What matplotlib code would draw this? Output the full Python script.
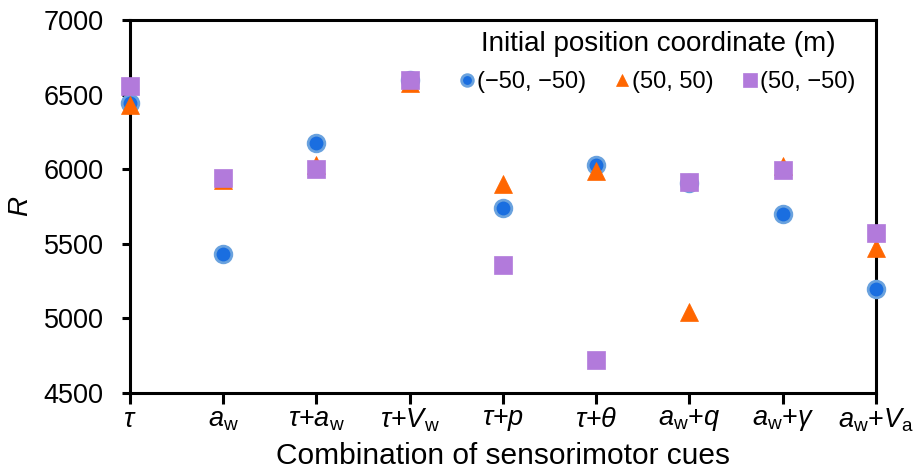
import matplotlib
matplotlib.use("Agg")
import matplotlib.pyplot as plt

plt.rcParams['font.family'] = ['Liberation Sans', 'DejaVu Sans']
plt.rcParams['mathtext.fontset'] = 'custom'
plt.rcParams['mathtext.it'] = 'Liberation Sans:italic'
plt.rcParams['mathtext.rm'] = 'Liberation Sans'
plt.rcParams['mathtext.bf'] = 'Liberation Sans:bold'

# data
cues = [r'$\tau$', r'$a_{\rm w}$', r'$\tau$+$a_{\rm w}$', r'$\tau$+$V_{\rm w}$',
        r'$\tau$+$p$', r'$\tau$+$\theta$', r'$a_{\rm w}$+$q$',
        r'$a_{\rm w}$+$\gamma$', r'$a_{\rm w}$+$V_{\rm a}$']
r_m50_m50 = [6440, 5430, 6175, 6600, 5740, 6030, 5910, 5700, 5195]
r_50_50 = [6430, 5930, 6030, 6580, 5900, 5990, 5045, 6020, 5470]
r_50_m50 = [6560, 5940, 6000, 6600, 5360, 4720, 5915, 5995, 5575]
labels = ['(\u221250, \u221250)', '(50, 50)', '(50, \u221250)']

x = list(range(len(cues)))

fig = plt.figure(figsize=(9.21, 4.73), dpi=100)
ax = fig.add_axes([0.141, 0.169, 0.81, 0.789])

ax.plot(x, r_m50_m50, ls='none', marker='o', ms=12, mfc='#1a6ee0',
        mec='#6aa2de', mew=2, label=labels[0], clip_on=False, zorder=3)
ax.plot(x, r_50_50, ls='none', marker='^', ms=13, mfc='#ff6600',
        mec='#ff6600', mew=0.5, label=labels[1], clip_on=False, zorder=4)
ax.plot(x, r_50_m50, ls='none', marker='s', ms=13.5, mfc='#b27adb',
        mec='#b27adb', mew=0.5, label=labels[2], clip_on=False, zorder=5)

ax.set_xlim(0, 8)
ax.set_ylim(4500, 7000)
ax.set_yticks([4500, 5000, 5500, 6000, 6500, 7000])
ax.set_xticks(x)
ax.set_xticklabels(cues)

for s in ax.spines.values():
    s.set_linewidth(2.2)
ax.tick_params(axis='y', direction='out', length=6, width=2.2, labelsize=19.5, pad=13)
ax.tick_params(axis='x', direction='out', length=8, width=2.2, labelsize=19.5, pad=2)

ax.set_ylabel('$R$', fontsize=20, labelpad=7)
ax.set_xlabel('Combination of sensorimotor cues', fontsize=21.5, labelpad=5.5)

leg = ax.legend(title='Initial position coordinate (m)', ncol=3, frameon=False,
                loc='upper right', bbox_to_anchor=(0.972, 0.97), fontsize=17,
                title_fontsize=20, handlelength=0.5, handletextpad=0.15,
                columnspacing=1.3, markerscale=0.7, borderpad=0,
                borderaxespad=0)
leg._legend_box.sep = 10

plt.savefig('out.png', dpi=100)
